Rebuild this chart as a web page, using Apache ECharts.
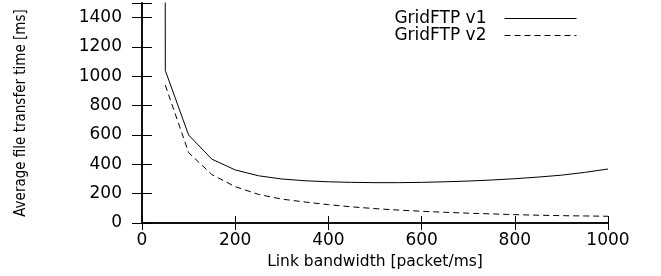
<!DOCTYPE html>
<html>
<head>
<meta charset="utf-8">
<script src="https://cdn.jsdelivr.net/npm/echarts@6/dist/echarts.min.js"></script>
<style>
  html, body { margin: 0; padding: 0; background: #fff; }
  #chart { width: 661px; height: 276px; }
</style>
</head>
<body>
<div id="chart"></div>
<script>
// bandwidth [packet/ms]
const bandwidth = [45, 50, 100, 150, 200, 250, 300, 350, 400, 450, 500, 550, 600, 650, 700, 750, 800, 850, 900, 950, 1000];
// transfer time [ms]
const gridV1 = [20000, 1040, 600, 435, 362, 322, 300, 288, 281, 277, 275, 275, 277, 281, 286, 293, 302, 313, 326, 345, 368];
const bandwidthV2 = [50, 100, 150, 200, 250, 300, 350, 400, 450, 500, 550, 600, 650, 700, 750, 800, 850, 900, 950, 1000];
const gridV2 = [940, 480, 330, 248, 195, 163, 143, 125, 110, 98, 88, 80, 73, 67, 62, 57, 53, 50, 48, 46];

const seriesNames = ['GridFTP v1', 'GridFTP v2'];
const font = '"DejaVu Sans", sans-serif';
const narrow = '"Liberation Sans Narrow", "DejaVu Sans Condensed", sans-serif';

const pairs = (xs, ys) => xs.map((x, i) => [x, ys[i]]);

const chart = echarts.init(document.getElementById('chart'));

const axisLine = { show: true, lineStyle: { color: '#000', width: 1.5 } };
const xTick = { show: true, inside: true, length: 7, lineStyle: { color: '#000', width: 1 } };
const yTick = { show: true, inside: true, length: 10, lineStyle: { color: '#000', width: 1 } };

chart.setOption({
  animation: false,
  grid: { left: 142, right: 53, top: 3, bottom: 53 },
  legend: {
    right: 79,
    top: 5,
    orient: 'vertical',
    align: 'right',
    itemWidth: 72,
    itemHeight: 10,
    itemGap: 0,
    itemStyle: { opacity: 0 },
    lineStyle: { width: 1 },
    textStyle: { fontFamily: font, fontSize: 17, lineHeight: 15, color: '#000', padding: [0, 13, 0, 0] },
    data: seriesNames
  },
  xAxis: [
    {
      type: 'value', min: 0, max: 1000, interval: 200,
      name: 'Link bandwidth [packet/ms]', nameLocation: 'middle', nameGap: 28,
      nameTextStyle: { fontFamily: font, fontSize: 15.5, color: '#000' },
      axisLine, axisTick: xTick,
      axisLabel: { fontFamily: font, fontSize: 17, color: '#000', margin: 9, formatter: v => String(v) },
      splitLine: { show: false }
    },
    {
      type: 'value', min: 0, max: 1000, interval: 200, position: 'top',
      axisLine, axisTick: xTick, axisLabel: { show: false }, splitLine: { show: false }
    }
  ],
  yAxis: [
    {
      type: 'value', min: 0, max: 1500, interval: 200,
      name: 'Average file transfer time [ms]', nameLocation: 'middle', nameGap: 113,
      nameTextStyle: { fontFamily: narrow, fontSize: 15, color: '#000' },
      axisLine, axisTick: yTick,
      axisLabel: {
        fontFamily: font, fontSize: 17, color: '#000', margin: 20,
        formatter: v => (v > 1400 ? '' : String(v))
      },
      splitLine: { show: false }
    },
    {
      type: 'value', min: 0, max: 1500, interval: 200, position: 'right',
      axisLine, axisTick: yTick, axisLabel: { show: false }, splitLine: { show: false }
    }
  ],
  series: [
    {
      name: seriesNames[0], type: 'line', symbol: 'none', clip: true,
      lineStyle: { color: '#000', width: 1 }, itemStyle: { color: '#000' },
      data: pairs(bandwidth, gridV1)
    },
    {
      name: seriesNames[1], type: 'line', symbol: 'none', clip: true,
      lineStyle: { color: '#000', width: 1, type: [6, 4] }, itemStyle: { color: '#000' },
      data: pairs(bandwidthV2, gridV2)
    }
  ]
});
</script>
</body>
</html>
